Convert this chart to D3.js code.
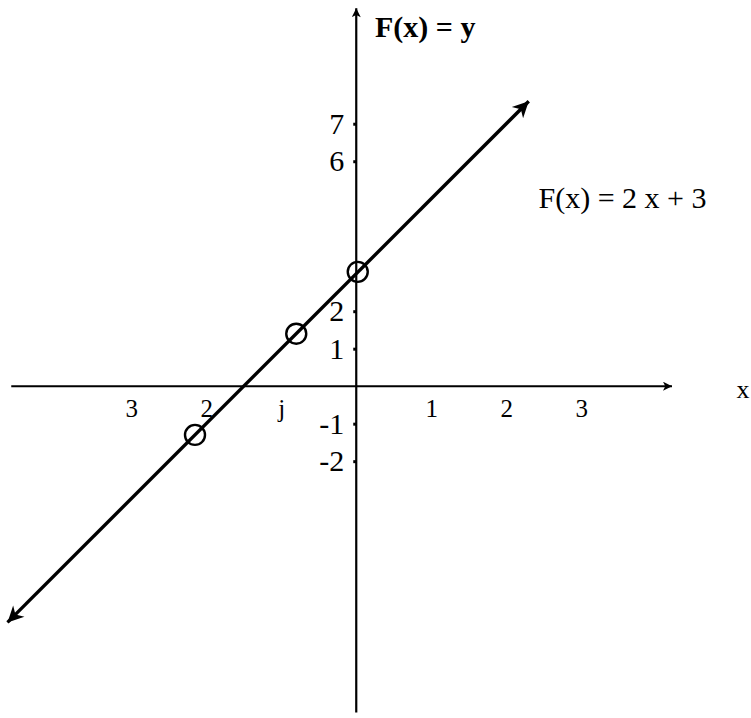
<!DOCTYPE html>
<html><head><meta charset="utf-8">
<script src="https://cdn.jsdelivr.net/npm/d3@7"></script>
<style>body{margin:0;background:#fff}svg{display:block}</style></head>
<body><svg id="c" width="751" height="718"></svg>
<script>
// ---- data ----
const xTickValues = [-3, -2, -1, 1, 2, 3];
const xTickLabels = ["3", "2", "j", "1", "2", "3"];
const yTickValues = [7, 6, 2, 1, -1, -2];
const yTickLabels = ["7", "6", "2", "1", "-1", "-2"];
const lineX = [-4.65, 2.3];          // ends of the drawn line F(x) = 2x + 3
const lineY = [-6.3, 7.6];
const pointX = [-2.15, -0.8, 0.02];  // circled points
const pointY = [-1.3, 1.4, 3.05];
const xAxisExtent = [-4.6, 4.21];
const yAxisExtent = [-8.7, 10.08];
const titleText = "F(x) = y";
const equationText = "F(x) = 2 x + 3";
const xAxisText = "x";

// ---- scales ----
const W = 751, H = 718;
const x = d3.scaleLinear().domain([-4.75, 5.25]).range([0, 750]);
const y = d3.scaleLinear().domain([-8.85, 10.3]).range([H, 0]);

const svg = d3.select("#c");
const defs = svg.append("defs");
function marker(id, w, h, path) {
  defs.append("marker").attr("id", id)
    .attr("viewBox", "0 0 10 10").attr("refX", 10).attr("refY", 5)
    .attr("markerUnits", "userSpaceOnUse")
    .attr("markerWidth", w).attr("markerHeight", h)
    .attr("orient", "auto-start-reverse")
    .append("path").attr("d", path).attr("fill", "#000");
}
marker("axArrow", 17, 9, "M0,0 L10,5 L0,10 L2.5,5 Z");
marker("lnArrow", 20, 16, "M0,0 L10,5 L0,10 L3,5 Z");

const serif = "'Liberation Serif','Times New Roman',serif";

// x axis
svg.append("line")
  .attr("x1", x(xAxisExtent[0])).attr("x2", x(xAxisExtent[1]))
  .attr("y1", y(0)).attr("y2", y(0))
  .attr("stroke", "#000").attr("stroke-width", 2)
  .attr("marker-end", "url(#axArrow)");

// y axis
svg.append("line")
  .attr("x1", x(0)).attr("x2", x(0))
  .attr("y1", y(yAxisExtent[0])).attr("y2", y(yAxisExtent[1]))
  .attr("stroke", "#000").attr("stroke-width", 2.2)
  .attr("marker-end", "url(#axArrow)");

// y ticks via d3 axis
const yAxis = d3.axisLeft(y)
  .tickValues(yTickValues)
  .tickFormat((d, i) => yTickLabels[i])
  .tickSize(3).tickPadding(9);
const gy = svg.append("g").attr("transform", `translate(${x(0)},0)`).call(yAxis);
gy.select(".domain").remove();
gy.selectAll(".tick line").attr("stroke", "#000").attr("stroke-width", 3);
gy.selectAll(".tick text").attr("font-family", serif).attr("font-size", 30).attr("fill", "#000");

// x ticks via d3 axis (labels only)
const xAxis = d3.axisBottom(x)
  .tickValues(xTickValues)
  .tickFormat((d, i) => xTickLabels[i])
  .tickSize(0).tickPadding(13);
const gx = svg.append("g").attr("transform", `translate(0,${y(0)})`).call(xAxis);
gx.select(".domain").remove();
gx.selectAll(".tick text").attr("font-family", serif).attr("font-size", 25).attr("fill", "#000");

// function line
svg.append("path")
  .datum(lineX.map((v, i) => [v, lineY[i]]))
  .attr("d", d3.line().x(d => x(d[0])).y(d => y(d[1])))
  .attr("fill", "none").attr("stroke", "#000").attr("stroke-width", 3.4)
  .attr("marker-start", "url(#lnArrow)").attr("marker-end", "url(#lnArrow)");

// circled points
svg.selectAll("circle.pt")
  .data(pointX.map((v, i) => [v, pointY[i]]))
  .join("circle").attr("class", "pt")
  .attr("cx", d => x(d[0])).attr("cy", d => y(d[1])).attr("r", 10)
  .attr("fill", "none").attr("stroke", "#000").attr("stroke-width", 2.4);

// texts
svg.append("text").text(titleText)
  .attr("x", x(0.25)).attr("y", y(9.3))
  .attr("font-family", serif).attr("font-weight", "bold").attr("font-size", 30)
  .attr("fill", "#000");
svg.append("text").text(equationText)
  .attr("x", x(2.43)).attr("y", y(4.75))
  .attr("font-family", serif).attr("font-size", 30)
  .attr("fill", "#000");
svg.append("text").text(xAxisText)
  .attr("x", x(5.07)).attr("y", y(-0.32))
  .attr("font-family", serif).attr("font-size", 26)
  .attr("fill", "#000");
</script>
</body></html>
